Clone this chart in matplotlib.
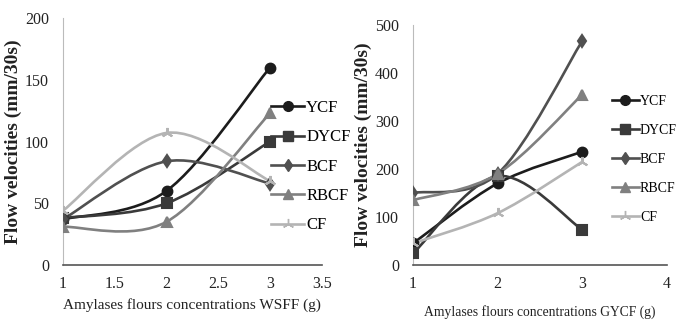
import matplotlib
matplotlib.use("Agg")
import matplotlib.pyplot as plt
import numpy as np
from matplotlib.path import Path
from matplotlib.patches import PathPatch
from matplotlib.lines import Line2D

plt.rcParams['font.family'] = ['Liberation Serif', 'DejaVu Serif']

# Data
series = ['YCF', 'DYCF', 'BCF', 'RBCF', 'CF']
x_conc = [1, 2, 3]

wsff_ycf = [37, 60, 160]
wsff_dycf = [38, 50, 100]
wsff_bcf = [37, 84, 66]
wsff_rbcf = [31, 35, 123]
wsff_cf = [44, 107, 68]

gycf_ycf = [45, 170, 236]
gycf_dycf = [24, 185, 73]
gycf_bcf = [150, 190, 467]
gycf_rbcf = [135, 190, 355]
gycf_cf = [45, 108, 215]

colors = ['#1c1c1c', '#3a3a3a', '#505050', '#808080', '#b4b4b4']
markers = ['o', 's', 'd', '^', (3, 2, 0)]
msizes = [7, 7, 6, 7, 8]


# excel-like smoothed line drawn as bezier path
def smooth_path(x, y):
    pts = np.column_stack([x, y]).astype(float)
    n = len(pts)
    verts = [pts[0]]
    codes = [Path.MOVETO]
    for i in range(n - 1):
        p0 = pts[max(i - 1, 0)]
        p1 = pts[i]
        p2 = pts[i + 1]
        p3 = pts[min(i + 2, n - 1)]
        c1 = p1 + (p2 - p0) / 6.0
        c2 = p2 - (p3 - p1) / 6.0
        verts += [c1, c2, p2]
        codes += [Path.CURVE4] * 3
    return Path(verts, codes)


def draw_panel(ax, data, ylim, yticks, xlim, xticks, xlabels, xlabel, xl_size, xl_pad):
    for vals, c, m, ms in zip(data, colors, markers, msizes):
        ax.add_patch(PathPatch(smooth_path(x_conc, vals), fill=False,
                               edgecolor=c, lw=1.9, zorder=2))
        ax.plot(x_conc, vals, linestyle='none', marker=m, ms=ms, color=c,
                mec=c, mew=1.5, zorder=3)
    ax.set_xlim(*xlim)
    ax.set_ylim(*ylim)
    ax.set_yticks(yticks)
    ax.set_xticks(xticks)
    ax.set_xticklabels(xlabels)
    ax.tick_params(length=0, labelsize=11.5, colors='#222222')
    ax.tick_params(axis='y', pad=10)
    ax.tick_params(axis='x', pad=8)
    for s in ['top', 'right']:
        ax.spines[s].set_visible(False)
    ax.spines['left'].set_color('#bbbbbb')
    ax.spines['bottom'].set_color('#555555')
    ax.spines['bottom'].set_linewidth(1.2)
    ax.set_xlabel(xlabel, fontsize=xl_size, color='#222222', labelpad=xl_pad)
    ax.set_ylabel('Flow velocities (mm/30s)', fontsize=14, fontweight='bold',
                  color='#222222', labelpad=2)


fig = plt.figure(figsize=(6.81, 3.21), dpi=100)
ax1 = fig.add_axes([0.0925, 0.1745, 0.380, 0.769])
ax2 = fig.add_axes([0.6065, 0.1745, 0.373, 0.748])

draw_panel(ax1, [wsff_ycf, wsff_dycf, wsff_bcf, wsff_rbcf, wsff_cf],
           (0, 200), [0, 50, 100, 150, 200], (1, 3.5),
           [1, 1.5, 2, 2.5, 3, 3.5], ['1', '1.5', '2', '2.5', '3', '3.5'],
           'Amylases flours concentrations WSFF (g)', 11, 4)
draw_panel(ax2, [gycf_ycf, gycf_dycf, gycf_bcf, gycf_rbcf, gycf_cf],
           (0, 500), [0, 100, 200, 300, 400, 500], (1, 4),
           [1, 2, 3, 4], ['1', '2', '3', '4'],
           'Amylases flours concentrations GYCF (g)', 9.8, 9)

handles = [Line2D([], [], color=c, lw=1.9, marker=m, ms=ms, mec=c)
           for c, m, ms in zip(colors, markers, msizes)]
ax1.legend(handles, series, loc='upper left', bbox_to_anchor=(0.398, 0.688),
           bbox_transform=fig.transFigure, frameon=False, fontsize=12,
           handlelength=2.0, handletextpad=0.1, labelspacing=0.8,
           borderpad=0, borderaxespad=0)
ax2.legend(handles, series, loc='upper left', bbox_to_anchor=(0.898, 0.703),
           bbox_transform=fig.transFigure, frameon=False, fontsize=10,
           handlelength=2.0, handletextpad=0.05, labelspacing=1.15,
           borderpad=0, borderaxespad=0)

fig.savefig('out.png', dpi=100)
